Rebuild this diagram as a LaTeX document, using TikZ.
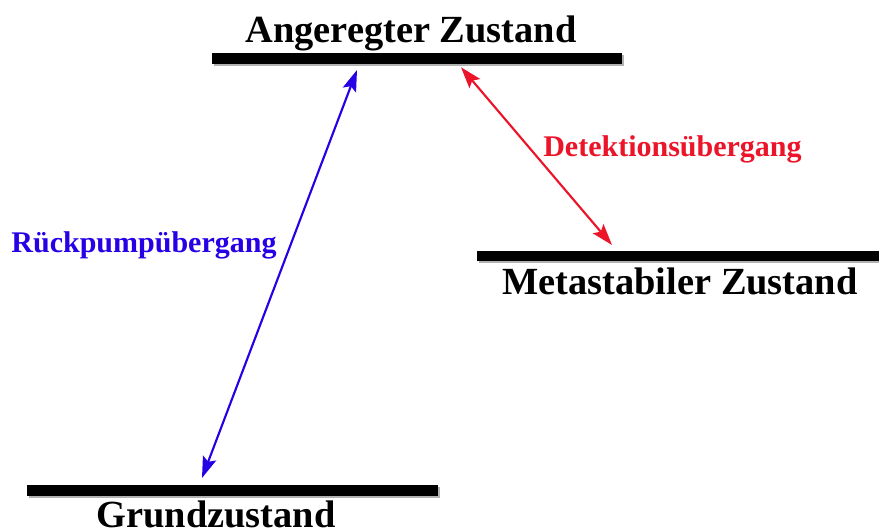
\documentclass[tikz,border=0pt]{standalone}
\usepackage{fontspec}
\setmainfont{Liberation Serif}
\usepackage{xcolor}
\usetikzlibrary{arrows.meta}
\definecolor{pumpblau}{RGB}{40,0,230}
\definecolor{detrot}{RGB}{235,20,40}

\begin{document}
\begin{tikzpicture}[x=0.75pt,y=0.75pt,
  niveau/.style={line width=8pt},
  schatten/.style={line width=8pt,black!30},
  gross/.style={font=\bfseries\fontsize{28.8}{32}\selectfont,anchor=base,inner sep=0pt},
  klein/.style={font=\bfseries\fontsize{22.5}{26}\selectfont,anchor=base,inner sep=0pt},
  pfeil/.style={line width=1.6pt,{Stealth[length=16pt,width=10.5pt,inset=3pt]}-{Stealth[length=16pt,width=10.5pt,inset=3pt]}}]
\useasboundingbox (0,0) rectangle (879,532);
\foreach \name/\xl/\xr/\yy in {ang/212/622/473.3, meta/477/882/276, grund/27/438/41.3}{
  \draw[schatten] (\xl+1.5,\yy-1.5) -- (\xr+1.5,\yy-1.5);
  \draw[niveau] (\xl,\yy) -- (\xr,\yy);}
\node[gross] (angText) at (411,489.3) {Angeregter Zustand};
\node[gross] (metaText) at (680,237) {Metastabiler Zustand};
\node[gross] (grundText) at (216,4.5) {Grundzustand};
\node[klein,text=pumpblau] (rueckText) at (144,279.7) {Rückpumpübergang};
\node[klein,text=detrot] (detText) at (672.5,375.3) {Detektionsübergang};
\coordinate (blauOben) at (357,462);
\coordinate (blauUnten) at (202,54);
\coordinate (rotOben) at (461,464.7);
\coordinate (rotUnten) at (612,287);
\draw[pfeil,pumpblau] (blauOben) -- (blauUnten);
\draw[pfeil,detrot] (rotOben) -- (rotUnten);
\end{tikzpicture}
\end{document}
